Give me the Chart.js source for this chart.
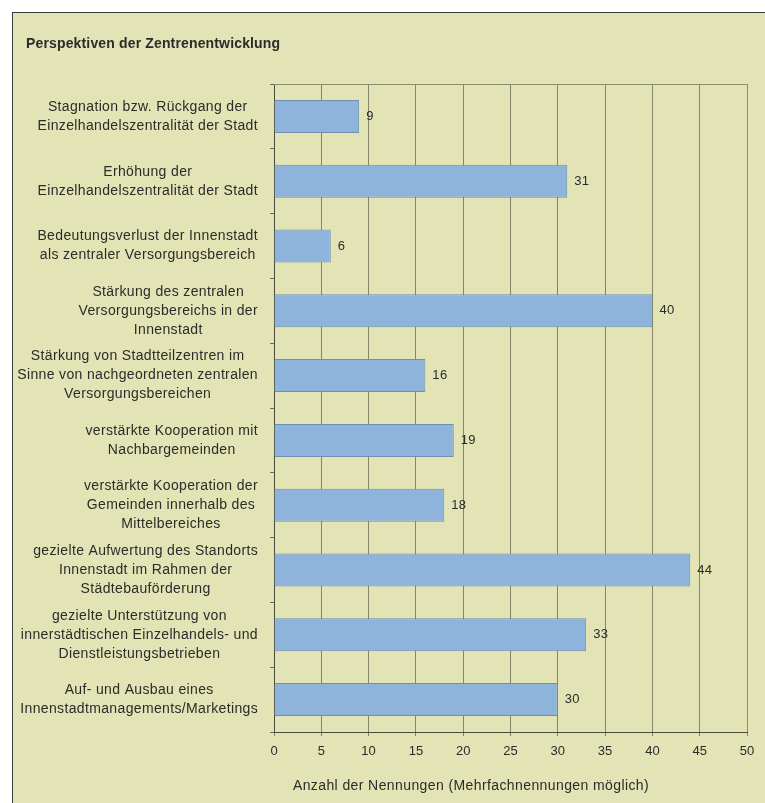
<!DOCTYPE html>
<html>
<head>
<meta charset="utf-8">
<script src="https://cdn.jsdelivr.net/npm/chart.js@4"></script>
<style>
  html, body { margin: 0; padding: 0; background: #fff; }
  #frame {
    position: absolute; left: 12px; top: 12px; width: 753px; height: 791px;
    background: #e3e4b5; border-left: 1px solid #3a3a3a; border-top: 1px solid #3a3a3a;
  }
  #chart { position: absolute; left: 0; top: 0; }
</style>
</head>
<body>
<div id="frame"><canvas id="chart" width="752" height="790"></canvas></div>
<script>
const chartTitle = 'Perspektiven der Zentrenentwicklung';
const axisTitle = 'Anzahl der Nennungen (Mehrfachnennungen möglich)';

const categories = [
  ['Stagnation bzw. Rückgang der', 'Einzelhandelszentralität der Stadt'],
  ['Erhöhung der', 'Einzelhandelszentralität der Stadt'],
  ['Bedeutungsverlust der Innenstadt', 'als zentraler Versorgungsbereich'],
  ['Stärkung des zentralen', 'Versorgungsbereichs in der', 'Innenstadt'],
  ['Stärkung von Stadtteilzentren im', 'Sinne von nachgeordneten zentralen', 'Versorgungsbereichen'],
  ['verstärkte Kooperation mit', 'Nachbargemeinden'],
  ['verstärkte Kooperation der', 'Gemeinden innerhalb des', 'Mittelbereiches'],
  ['gezielte Aufwertung des Standorts', 'Innenstadt im Rahmen der', 'Städtebauförderung'],
  ['gezielte Unterstützung von', 'innerstädtischen Einzelhandels- und', 'Dienstleistungsbetrieben'],
  ['Auf- und Ausbau eines', 'Innenstadtmanagements/Marketings']
];
const mentions = [9, 31, 6, 40, 16, 19, 18, 44, 33, 30];
const xMin = 0;
const xMax = 50;
const xStep = 5;

const FONT = '"Liberation Sans", Arial, sans-serif';
const TEXT = '#2b2b2b';

// labels, values and titles drawn by hand so multi-line labels stay centred
const extras = {
  id: 'extras',
  afterDraw(chart) {
    const ctx = chart.ctx;
    const area = chart.chartArea;
    const y = chart.scales.y;
    ctx.save();

    // plot frame top/right
    ctx.strokeStyle = '#8c8c6e';
    ctx.lineWidth = 1;
    ctx.beginPath();
    ctx.moveTo(area.left, area.top + 0.5);
    ctx.lineTo(area.right + 0.5, area.top + 0.5);
    ctx.lineTo(area.right + 0.5, area.bottom);
    ctx.stroke();

    ctx.fillStyle = TEXT;

    // title
    ctx.font = 'bold 14px ' + FONT;
    ctx.letterSpacing = '0.15px';
    ctx.textAlign = 'left';
    ctx.textBaseline = 'middle';
    ctx.fillText(chartTitle, 13, 31);

    // category labels
    ctx.font = '14px ' + FONT;
    ctx.letterSpacing = '0.35px';
    ctx.textAlign = 'center';
    const rightEdge = 245;
    const lineH = 19;
    categories.forEach((lines, i) => {
      const cy = y.getPixelForValue(i);
      const w = Math.max(...lines.map(l => ctx.measureText(l).width));
      const cx = rightEdge - w / 2;
      const y0 = cy - (lines.length - 1) * lineH / 2;
      lines.forEach((l, k) => ctx.fillText(l, cx, y0 + k * lineH));
    });

    // values next to bars
    ctx.font = '13px ' + FONT;
    ctx.letterSpacing = '0.3px';
    ctx.textAlign = 'left';
    const meta = chart.getDatasetMeta(0);
    meta.data.forEach((bar, i) => {
      ctx.fillText(String(mentions[i]), bar.x + 7, bar.y);
    });

    // axis title
    ctx.font = '14px ' + FONT;
    ctx.letterSpacing = '0.4px';
    ctx.textAlign = 'center';
    ctx.fillText(axisTitle, 458, 773);

    ctx.restore();
  }
};

new Chart(document.getElementById('chart'), {
  type: 'bar',
  data: {
    labels: categories,
    datasets: [{
      data: mentions,
      backgroundColor: '#8fb4db',
      borderColor: '#6f8eb2',
      borderWidth: 1,
      barPercentage: 0.51,
      categoryPercentage: 1
    }]
  },
  options: {
    indexAxis: 'y',
    responsive: false,
    animation: false,
    layout: { padding: { top: 71, right: 18, left: 0, bottom: 0 } },
    plugins: {
      legend: { display: false },
      tooltip: { enabled: false }
    },
    scales: {
      x: {
        min: xMin,
        max: xMax,
        afterFit(scale) { scale.height = 71; },
        ticks: {
          stepSize: xStep,
          color: TEXT,
          padding: 8,
          font: { family: FONT, size: 13 }
        },
        grid: { color: '#85856a', tickLength: 4 },
        border: { color: '#4a4a3a' }
      },
      y: {
        afterFit(scale) { scale.width = 261; },
        ticks: { display: false },
        grid: { drawOnChartArea: false, tickLength: 4, color: '#6a6a5a' },
        border: { color: '#4a4a3a' }
      }
    }
  },
  plugins: [extras]
});
</script>
</body>
</html>
